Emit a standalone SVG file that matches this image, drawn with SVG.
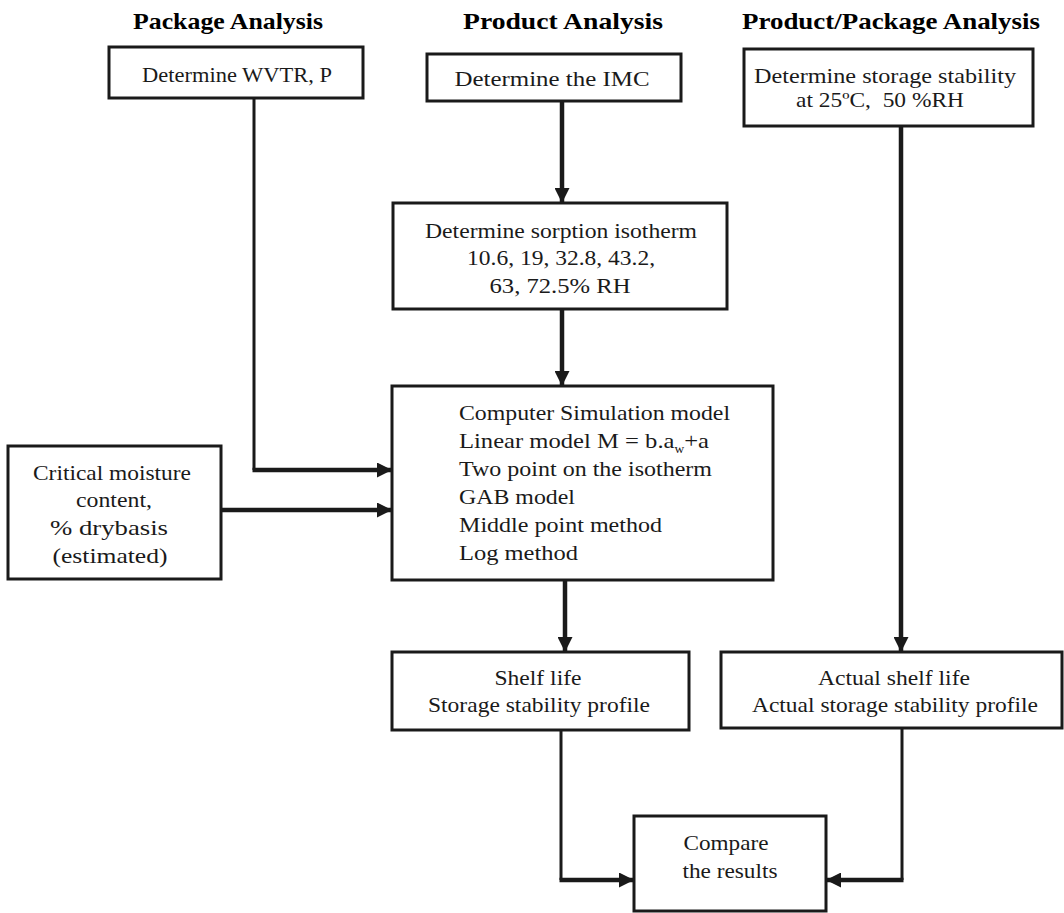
<svg xmlns="http://www.w3.org/2000/svg" width="1064" height="913" viewBox="0 0 1064 913">
<style>
.box{fill:#fff;stroke:#1a1a1a;stroke-width:3}
.t{font-family:"Liberation Serif","Times New Roman",serif;font-size:22px;fill:#1a1a1a}
.c{text-anchor:middle}
.h{font-family:"Liberation Serif","Times New Roman",serif;font-size:23px;font-weight:bold;fill:#000;text-anchor:middle}
.ln{fill:none;stroke:#1a1a1a;stroke-width:3}
.thk{fill:none;stroke:#1a1a1a;stroke-width:4.5}
</style>
<defs>
<marker id="ah" markerUnits="userSpaceOnUse" markerWidth="15" markerHeight="15" refX="15" refY="7.5" orient="auto">
<path d="M0,0 L15,7.5 L0,15 z" fill="#1a1a1a"/>
</marker>
</defs>
<rect width="1064" height="913" fill="#fff"/>
<g id="titles">
<text class="h" x="228" y="29" textLength="190" lengthAdjust="spacingAndGlyphs">Package Analysis</text>
<text class="h" x="563" y="29" textLength="200" lengthAdjust="spacingAndGlyphs">Product Analysis</text>
<text class="h" x="891" y="29" textLength="298" lengthAdjust="spacingAndGlyphs">Product/Package Analysis</text>
</g>
<g id="connectors">
<path class="ln" d="M254,98 V470"/>
<path class="thk" d="M252.5,470 H392" marker-end="url(#ah)"/>
<path class="thk" d="M221,510 H392" marker-end="url(#ah)"/>
<path class="thk" d="M562,101 V203" marker-end="url(#ah)"/>
<path class="thk" d="M562,309 V386" marker-end="url(#ah)"/>
<path class="thk" d="M565,580 V652" marker-end="url(#ah)"/>
<path class="thk" d="M901,126 V652" marker-end="url(#ah)"/>
<path class="ln" d="M561,730 V880"/>
<path class="thk" d="M559.5,880 H634" marker-end="url(#ah)"/>
<path class="ln" d="M902,728 V880"/>
<path class="thk" d="M903.5,880 H826" marker-end="url(#ah)"/>
</g>
<g id="wvtr">
<rect class="box" x="109" y="47" width="254" height="51"/>
<text class="t c" x="237" y="82" textLength="190" lengthAdjust="spacingAndGlyphs">Determine WVTR, P</text>
</g>
<g id="imc">
<rect class="box" x="427" y="54" width="254" height="47"/>
<text class="t c" x="552" y="86" textLength="195" lengthAdjust="spacingAndGlyphs">Determine the IMC</text>
</g>
<g id="storage">
<rect class="box" x="744" y="49" width="289" height="77"/>
<text class="t c" x="885" y="83" textLength="262" lengthAdjust="spacingAndGlyphs">Determine storage stability</text>
<text class="t c" x="880" y="107" textLength="168" lengthAdjust="spacingAndGlyphs">at 25ºC,&#160; 50 %RH</text>
</g>
<g id="sorption">
<rect class="box" x="393" y="203" width="334" height="106"/>
<text class="t c" x="561" y="238" textLength="272" lengthAdjust="spacingAndGlyphs">Determine sorption isotherm</text>
<text class="t c" x="561" y="265" textLength="188" lengthAdjust="spacingAndGlyphs">10.6, 19, 32.8, 43.2,</text>
<text class="t c" x="560" y="293" textLength="141" lengthAdjust="spacingAndGlyphs">63, 72.5% RH</text>
</g>
<g id="simulation">
<rect class="box" x="392" y="386" width="381" height="194"/>
<text class="t" x="459" y="420" textLength="271" lengthAdjust="spacingAndGlyphs">Computer Simulation model</text>
<text class="t" x="459" y="448" textLength="250" lengthAdjust="spacingAndGlyphs">Linear model M = b.a<tspan dy="5" font-size="12">w</tspan><tspan dy="-5">+a</tspan></text>
<text class="t" x="459" y="476" textLength="253" lengthAdjust="spacingAndGlyphs">Two point on the isotherm</text>
<text class="t" x="459" y="504" textLength="116" lengthAdjust="spacingAndGlyphs">GAB model</text>
<text class="t" x="459" y="532" textLength="203" lengthAdjust="spacingAndGlyphs">Middle point method</text>
<text class="t" x="459" y="560" textLength="119" lengthAdjust="spacingAndGlyphs">Log method</text>
</g>
<g id="critical">
<rect class="box" x="8" y="446" width="213" height="133"/>
<text class="t c" x="112" y="480" textLength="158" lengthAdjust="spacingAndGlyphs">Critical moisture</text>
<text class="t c" x="114" y="507" textLength="76" lengthAdjust="spacingAndGlyphs">content,</text>
<text class="t c" x="109" y="535" textLength="118" lengthAdjust="spacingAndGlyphs">% drybasis</text>
<text class="t c" x="110" y="563" textLength="115" lengthAdjust="spacingAndGlyphs">(estimated)</text>
</g>
<g id="shelf">
<rect class="box" x="392" y="652" width="297" height="78"/>
<text class="t c" x="538" y="685" textLength="87" lengthAdjust="spacingAndGlyphs">Shelf life</text>
<text class="t c" x="539" y="712" textLength="222" lengthAdjust="spacingAndGlyphs">Storage stability profile</text>
</g>
<g id="actual">
<rect class="box" x="721" y="652" width="341" height="76"/>
<text class="t c" x="894" y="685" textLength="152" lengthAdjust="spacingAndGlyphs">Actual shelf life</text>
<text class="t c" x="895" y="712" textLength="286" lengthAdjust="spacingAndGlyphs">Actual storage stability profile</text>
</g>
<g id="compare">
<rect class="box" x="634" y="816" width="192" height="95"/>
<text class="t c" x="726" y="850" textLength="85" lengthAdjust="spacingAndGlyphs">Compare</text>
<text class="t c" x="730" y="878" textLength="95" lengthAdjust="spacingAndGlyphs">the results</text>
</g>
</svg>
